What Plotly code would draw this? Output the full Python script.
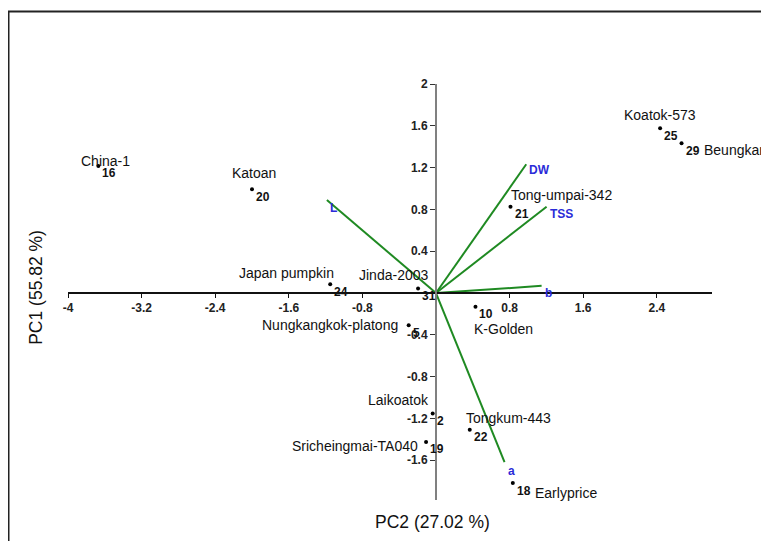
import plotly.graph_objects as go

# ---------------- data ----------------
genotypes = ["China-1", "Katoan", "Japan pumpkin", "Jinda-2003", "Tong-umpai-342",
             "Koatok-573", "Beungkan", "K-Golden", "Nungkangkok-platong", "Laikoatok",
             "Tongkum-443", "Sricheingmai-TA040", "Earlyprice"]
ids = [16, 20, 24, 31, 21, 25, 29, 10, 5, 2, 22, 19, 18]
pc2 = [-3.67, -2.00, -1.15, -0.195, 0.81, 2.436, 2.669, 0.429, -0.297, -0.036, 0.367, -0.108, 0.835]
pc1 = [1.216, 0.992, 0.085, 0.044, 0.826, 1.577, 1.433, -0.132, -0.307, -1.153, -1.307, -1.425, -1.818]

variables = ["L", "DW", "TSS", "b", "a"]
var_pc2 = [-1.186, 0.981, 1.202, 1.148, 0.745]
var_pc1 = [0.890, 1.232, 0.826, 0.069, -1.617]

xtick_vals = [-4, -3.2, -2.4, -1.6, -0.8, 0.8, 1.6, 2.4]
ytick_vals = [2, 1.6, 1.2, 0.8, 0.4, -0.4, -0.8, -1.2, -1.6]
x_range = [-4, 3.0]
y_range = [-1.98, 2.0]

x_title = "PC2 (27.02 %)"
y_title = "PC1 (55.82 %)"

# ---------------- styles ----------------
FONT = "Liberation Sans, Arial, sans-serif"
GREEN = "#1f8a22"
BLUE = "#2b2bd8"
W, H = 761, 533          # page body has an 8px margin inside the 769x541 window
ML, MR, MT = 60, 57, 76
PW, PH = W - ML - MR, 416
MB = H - MT - PH

# name label placement: (xanchor, xshift px, yshift px)
name_pos = [
    ("center", 7, 5),
    ("center", 2, 16),
    ("right", 6, 11),
    ("right", 12, 13),
    ("left", -2, 12),
    ("center", 0, 13),
    ("left", 20, -7),
    ("left", -3, -22.5),
    ("right", -9, 0),
    ("right", -1.5, 14),
    ("left", -6, 12),
    ("right", -6.5, -4),
    ("left", 20.5, -10),
]
var_dy = [-8, -6, -7, -7, -9]

fig = go.Figure()

# vectors
for name, vx, vy in zip(variables, var_pc2, var_pc1):
    fig.add_trace(go.Scatter(x=[0, vx], y=[0, vy], mode="lines",
                             line=dict(color=GREEN, width=2), hoverinfo="skip",
                             showlegend=False))

# points
fig.add_trace(go.Scatter(x=pc2, y=pc1, mode="markers",
                         marker=dict(color="black", size=4), showlegend=False))

annotations = []
for g, i, x, y, (xa, dx, dy) in zip(genotypes, ids, pc2, pc1, name_pos):
    annotations.append(dict(x=x, y=y, xref="x", yref="y", text=g, showarrow=False,
                            xanchor=xa, yanchor="middle", xshift=dx, yshift=dy,
                            font=dict(family=FONT, size=14, color="#111")))
    annotations.append(dict(x=x, y=y, xref="x", yref="y", text="<b>%d</b>" % i,
                            showarrow=False, xanchor="left", yanchor="middle",
                            xshift=2, yshift=-7.5,
                            font=dict(family=FONT, size=12, color="#111")))

for name, vx, vy, dy in zip(variables, var_pc2, var_pc1, var_dy):
    annotations.append(dict(x=vx, y=vy, xref="x", yref="y", text="<b>%s</b>" % name,
                            showarrow=False, xanchor="left", yanchor="middle",
                            xshift=1, yshift=dy,
                            font=dict(family=FONT, size=12, color=BLUE)))

annotations.append(dict(x=0, y=0, xref="x", yref="paper", text=x_title, showarrow=False,
                        xanchor="center", yanchor="middle", xshift=-4, yshift=-22,
                        font=dict(family=FONT, size=17.5, color="#111")))
annotations.append(dict(x=0, y=0.51, xref="paper", yref="paper", text=y_title,
                        showarrow=False, textangle=-90, xanchor="center",
                        yanchor="middle", xshift=-32,
                        font=dict(family=FONT, size=17.5, color="#111")))

x_pos = (0 - y_range[0]) / (y_range[1] - y_range[0])
y_pos = (0 - x_range[0]) / (x_range[1] - x_range[0])

fig.update_layout(
    width=W, height=H,
    margin=dict(l=ML, r=MR, t=MT, b=MB),
    paper_bgcolor="white", plot_bgcolor="white",
    font=dict(family=FONT),
    showlegend=False,
    annotations=annotations,
    xaxis=dict(range=x_range, anchor="free", position=x_pos, side="bottom",
               showgrid=False, zeroline=False, showline=True, linecolor="#111",
               linewidth=1.5, ticks="outside", ticklen=4, tickcolor="#111",
               tickvals=xtick_vals, ticktext=["<b>%g</b>" % v for v in xtick_vals],
               tickfont=dict(family=FONT, size=12, color="#222")),
    yaxis=dict(range=y_range, anchor="free", position=y_pos, side="left",
               showgrid=False, zeroline=False, showline=True, linecolor="#808080",
               linewidth=2, ticks="outside", ticklen=5, tickcolor="#333",
               tickvals=ytick_vals, ticktext=["<b>%g</b>" % v for v in ytick_vals],
               tickfont=dict(family=FONT, size=12, color="#222")),
    shapes=[dict(type="rect", xref="paper", yref="paper",
                 x0=(0.5 - ML) / PW, x1=1.3, y0=-0.5, y1=(H - MB - 3.5) / PH,
                 line=dict(color="#222", width=2), layer="above")],
)

fig.write_html("out.html")
